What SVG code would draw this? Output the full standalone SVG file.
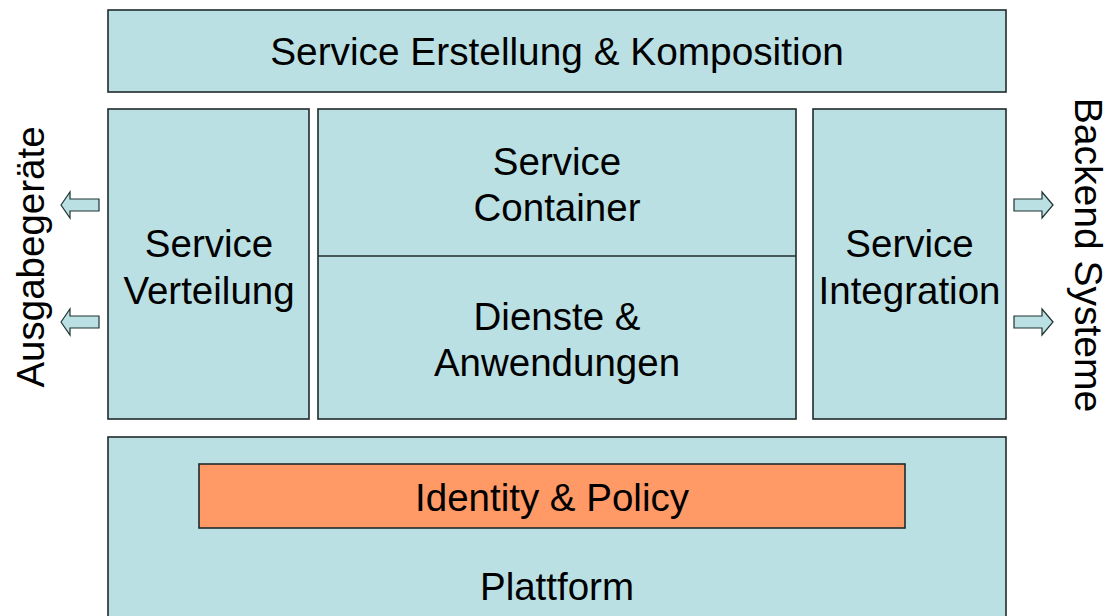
<svg xmlns="http://www.w3.org/2000/svg" width="1110" height="616" viewBox="0 0 1110 616">
<style>
.box{fill:#BBE0E3;stroke:#1f2b2b;stroke-width:1.6}
.hl{fill:#FF9966;stroke:#1f2b2b;stroke-width:1.6}
.arr{fill:#BBE0E3;stroke:#1f3333;stroke-width:1.2}
text{font-family:"Liberation Sans",Arial,sans-serif;font-size:38.5px;fill:#000;text-anchor:middle}
</style>
<rect width="1110" height="616" fill="#fff"/>
<g id="top">
<rect class="box" x="108" y="10" width="898" height="82"/>
<text x="557" y="65" style="font-size:38.8px">Service Erstellung &amp; Komposition</text>
</g>
<g id="verteilung">
<rect class="box" x="108" y="109" width="201" height="310"/>
<text x="209" y="257">Service</text>
<text x="209" y="304">Verteilung</text>
</g>
<g id="center">
<rect class="box" x="318" y="109" width="478" height="310"/>
<line x1="318" y1="256" x2="796" y2="256" stroke="#1f2b2b" stroke-width="1.6"/>
<text x="557" y="175">Service</text>
<text x="557" y="221">Container</text>
<text x="557" y="330">Dienste &amp;</text>
<text x="557" y="376">Anwendungen</text>
</g>
<g id="integration">
<rect class="box" x="813" y="109" width="193" height="310"/>
<text x="909.5" y="257">Service</text>
<text x="909.5" y="304">Integration</text>
</g>
<g id="plattform">
<rect class="box" x="108" y="437" width="898" height="190"/>
<text x="557" y="600">Plattform</text>
</g>
<g id="identity">
<rect class="hl" x="199" y="464" width="706" height="64"/>
<text x="552" y="511">Identity &amp; Policy</text>
</g>
<g id="ausgabe">
<text transform="translate(44,257) rotate(-90)">Ausgabegeräte</text>
</g>
<g id="backend">
<text transform="translate(1075,255) rotate(90)" style="font-size:39px">Backend Systeme</text>
</g>
<g id="connectors">
<path class="arr" d="M61,205 L70,192 L70,199 L99,199 L99,211 L70,211 L70,218 Z"/>
<path class="arr" d="M61,322 L70,309 L70,316 L99,316 L99,328 L70,328 L70,335 Z"/>
<path class="arr" d="M1053,205 L1042,192 L1042,199 L1014,199 L1014,211 L1042,211 L1042,218 Z"/>
<path class="arr" d="M1053,322 L1042,309 L1042,316 L1014,316 L1014,328 L1042,328 L1042,335 Z"/>
</g>
</svg>
